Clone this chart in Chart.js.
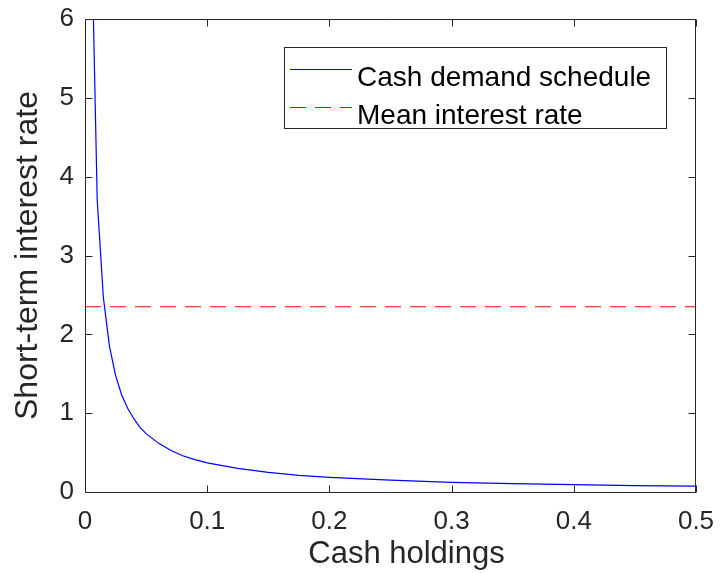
<!DOCTYPE html>
<html>
<head>
<meta charset="utf-8">
<script src="https://cdn.jsdelivr.net/npm/chart.js@4.4.1/dist/chart.umd.min.js"></script>
<style>
  body { margin: 0; background: #fff; }
  #wrap { width: 721px; height: 573px; }
</style>
</head>
<body>
<div id="wrap"><canvas id="cashChart" width="721" height="573"></canvas></div>
<script>
// values
const cashHoldings = [0.005, 0.01, 0.015, 0.02, 0.025, 0.03, 0.035, 0.04, 0.045, 0.05,
                      0.06, 0.07, 0.08, 0.09, 0.1, 0.125, 0.15, 0.175, 0.2,
                      0.25, 0.3, 0.35, 0.4, 0.45, 0.5];
const cashDemand = [7.4, 3.70, 2.47, 1.85, 1.48, 1.23, 1.06, 0.93, 0.82, 0.74,
                    0.62, 0.53, 0.46, 0.41, 0.37, 0.30, 0.25, 0.21, 0.185,
                    0.15, 0.123, 0.106, 0.093, 0.082, 0.074];
const meanInterestRate = 2.35;
const xTicks = [0, 0.1, 0.2, 0.3, 0.4, 0.5];
const yTicks = [0, 1, 2, 3, 4, 5, 6];
const seriesNames = ['Cash demand schedule', 'Mean interest rate'];
const seriesColors = ['#0000ff', '#ff0000'];
const xTitle = 'Cash holdings';
const yTitle = 'Short-term interest rate';

const fontFamily = "'Liberation Sans', Arial, Helvetica, sans-serif";
const axisColor = '#262626';
const dash = [16, 9];

// box round the plot with inward ticks on all four sides (matlab look)
const axisBox = {
  id: 'axisBox',
  afterDatasetsDraw(chart) {
    const { ctx, chartArea: a, scales } = chart;
    const l = Math.floor(a.left) + 0.5, r = Math.floor(a.right) - 0.5;
    const t = Math.floor(a.top) + 0.5, b = Math.floor(a.bottom) + 0.5;
    ctx.save();
    ctx.strokeStyle = axisColor;
    ctx.lineWidth = 1;
    ctx.beginPath();
    xTicks.forEach(v => {
      const px = Math.round(scales.x.getPixelForValue(v)) + 0.5;
      ctx.moveTo(px, b); ctx.lineTo(px, b - 7);
      ctx.moveTo(px, t); ctx.lineTo(px, t + 7);
    });
    yTicks.forEach(v => {
      const py = Math.round(scales.y.getPixelForValue(v)) + 0.5;
      ctx.moveTo(l, py); ctx.lineTo(l + 7, py);
      ctx.moveTo(r, py); ctx.lineTo(r - 7, py);
    });
    ctx.rect(l, t, r - l, b - t);
    ctx.stroke();
    ctx.restore();

    // x label sits a bit right of centre in the original
    ctx.save();
    ctx.fillStyle = axisColor;
    ctx.font = '31px ' + fontFamily;
    ctx.textAlign = 'center';
    ctx.textBaseline = 'alphabetic';
    ctx.fillText(xTitle, (a.left + a.right) / 2 + 16, 563);
    ctx.restore();
  }
};

// legend drawn inside the axes, top right
const boxLegend = {
  id: 'boxLegend',
  afterDraw(chart) {
    const ctx = chart.ctx;
    const left = 284.5, top = 47.5, width = 382, height = 81;
    ctx.save();
    ctx.fillStyle = '#fff';
    ctx.fillRect(left, top, width, height);
    ctx.strokeStyle = axisColor;
    ctx.lineWidth = 1;
    ctx.strokeRect(left, top, width, height);
    const rows = [{ line: 69, base: 86 }, { line: 107, base: 124 }];
    chart.data.datasets.forEach((ds, i) => {
      ctx.fillStyle = seriesColors[i];
      if (i === 0) {
        ctx.fillRect(290, rows[i].line, 62, 1);
      } else {
        for (let x = 290; x < 352; x += dash[0] + dash[1]) {
          ctx.fillRect(x, rows[i].line, Math.min(dash[0], 352 - x), 1);
        }
      }
      ctx.fillStyle = '#000';
      ctx.font = '28px ' + fontFamily;
      ctx.textAlign = 'left';
      ctx.textBaseline = 'alphabetic';
      ctx.fillText(ds.label, 357, rows[i].base);
    });
    ctx.restore();
  }
};

// no extra room for tick label overhang, layout padding alone sets the plot box
function noOverhang(scale) {
  scale.paddingTop = 0;
  scale.paddingBottom = 0;
  scale.paddingLeft = 0;
  scale.paddingRight = 0;
}

const demandPoints = cashHoldings.map((c, i) => ({ x: c, y: cashDemand[i] }));
const meanPoints = [
  { x: xTicks[0], y: meanInterestRate },
  { x: xTicks[xTicks.length - 1], y: meanInterestRate }
];

const ctx = document.getElementById('cashChart').getContext('2d');
const chart = new Chart(ctx, {
  type: 'line',
  data: {
    datasets: [{
      label: seriesNames[0],
      data: demandPoints,
      borderColor: seriesColors[0],
      borderWidth: 1.2,
      pointRadius: 0,
      tension: 0,
      clip: 0
    }, {
      label: seriesNames[1],
      data: meanPoints,
      borderColor: seriesColors[1],
      borderWidth: 1.2,
      borderDash: dash,
      pointRadius: 0,
      clip: 0
    }]
  },
  options: {
    responsive: false,
    devicePixelRatio: 1,
    animation: false,
    layout: {
      padding: { top: 19, right: 25, left: 0, bottom: 0 }
    },
    plugins: {
      legend: { display: false },
      tooltip: { enabled: false }
    },
    scales: {
      x: {
        type: 'linear',
        min: 0,
        max: 0.5,
        afterFit: scale => { scale.height = 81; noOverhang(scale); },
        afterBuildTicks: scale => { scale.ticks = xTicks.map(v => ({ value: v })); },
        grid: { display: false, drawTicks: false },
        border: { display: false },
        ticks: {
          padding: 14,
          color: axisColor,
          font: { family: fontFamily, size: 26 },
          maxRotation: 0
        },
        title: { display: false, text: xTitle }
      },
      y: {
        min: 0,
        max: 6,
        afterFit: scale => { scale.width = 85; noOverhang(scale); },
        afterBuildTicks: scale => { scale.ticks = yTicks.map(v => ({ value: v })); },
        grid: { display: false, drawTicks: false },
        border: { display: false },
        ticks: {
          padding: 11,
          color: axisColor,
          font: { family: fontFamily, size: 26 }
        },
        title: {
          display: true,
          text: yTitle,
          color: axisColor,
          font: { family: fontFamily, size: 32 },
          padding: { top: 9, bottom: 0 }
        }
      }
    }
  },
  plugins: [axisBox, boxLegend]
});
</script>
</body>
</html>
